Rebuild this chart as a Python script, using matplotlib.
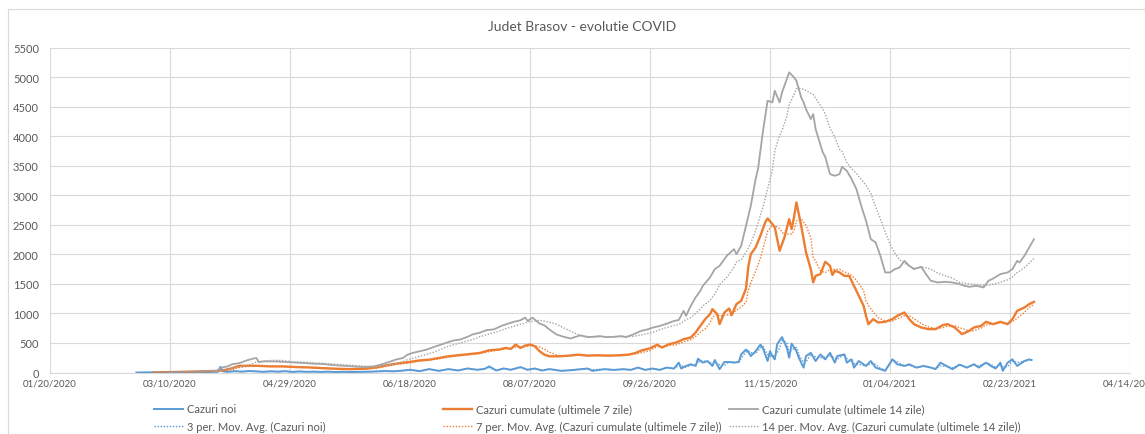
import numpy as np
import pandas as pd
import matplotlib
matplotlib.use("Agg")
import matplotlib.pyplot as plt
import matplotlib.dates as mdates
from matplotlib.patches import Rectangle

plt.rcParams['font.family'] = ['Lato', 'DejaVu Sans']

START = pd.Timestamp('2020-01-20')

# values, days counted from 01/20/2020
noi_days = [36, 40, 44, 48, 52, 56, 60, 64, 68, 70, 71, 72, 74, 77, 80, 83, 86, 89, 92, 95,
            98, 101, 104, 107, 110, 113, 116, 119, 122, 125, 128, 131, 134, 137, 140, 143, 146, 150, 154, 158,
            162, 166, 170, 174, 178, 181, 183, 186, 189, 192, 196, 199, 202, 205, 208, 210, 213, 217, 221, 224,
            226, 231, 235, 239, 242, 245, 248, 251, 254, 257, 260, 262, 263, 265, 267, 269, 270, 272, 274, 276,
            277, 279, 281, 283, 285, 287, 288, 290, 291, 292, 294, 296, 297, 299, 300, 301, 302, 303, 304, 305,
            307, 308, 309, 311, 312, 314, 315, 317, 319, 321, 323, 325, 327, 328, 331, 332, 334, 335, 337, 340,
            342, 344, 346, 348, 351, 353, 356, 358, 361, 364, 367, 369, 371, 374, 376, 379, 382, 385, 387, 390,
            392, 394, 396, 397, 399, 401, 403, 406, 408, 409]
noi_vals = [0, 2, 0, 3, 5, 4, 8, 6, 10, 15, 95, 20, 12, 22, 15, 25, 18, 12, 20, 14,
            22, 10, 18, 12, 15, 10, 14, 8, 12, 8, 10, 12, 15, 20, 25, 20, 28, 46, 23, 57,
            28, 57, 34, 68, 46, 60, 103, 34, 68, 46, 91, 46, 68, 34, 57, 45, 28, 39, 56, 67,
            28, 56, 44, 56, 44, 83, 44, 67, 44, 83, 67, 167, 67, 111, 139, 111, 233, 167, 194, 111,
            211, 56, 178, 178, 167, 178, 306, 389, 345, 278, 361, 472, 417, 194, 361, 278, 222, 480, 540, 600,
            417, 250, 489, 361, 250, 83, 278, 333, 194, 306, 222, 333, 167, 278, 306, 167, 222, 83, 194, 111,
            194, 83, 56, 28, 222, 139, 111, 139, 83, 111, 83, 56, 167, 100, 56, 133, 83, 139, 83, 167,
            111, 67, 167, 28, 167, 222, 111, 194, 222, 211]

zile7_days = [43, 48, 52, 56, 60, 64, 68, 70, 73, 76, 78, 79, 82, 86, 92, 97, 103, 108, 114, 119,
              125, 131, 136, 140, 144, 146, 150, 154, 158, 162, 166, 170, 175, 179, 183, 187, 190, 192, 194, 196,
              198, 200, 202, 204, 206, 208, 212, 216, 220, 224, 228, 233, 237, 241, 244, 246, 250, 253, 255, 258,
              261, 264, 267, 269, 271, 273, 275, 276, 278, 279, 281, 283, 284, 286, 288, 290, 291, 292, 294, 296,
              298, 299, 301, 302, 304, 306, 308, 309, 310, 311, 313, 315, 317, 318, 319, 321, 323, 325, 326, 327,
              329, 331, 333, 335, 337, 339, 340, 341, 343, 345, 348, 351, 353, 356, 358, 360, 363, 366, 369, 372,
              374, 377, 380, 383, 385, 388, 390, 393, 396, 399, 401, 403, 406, 408, 410]
zile7_vals = [0, 5, 8, 12, 15, 20, 25, 28, 45, 74, 103, 114, 114, 114, 103, 103, 91, 85, 74, 63,
              57, 63, 85, 120, 148, 160, 180, 205, 217, 245, 274, 291, 314, 330, 376, 388, 416, 399, 473, 416,
              456, 473, 445, 359, 302, 274, 274, 285, 302, 285, 291, 285, 291, 302, 330, 367, 410, 470, 423, 480,
              508, 564, 592, 677, 790, 903, 987, 1072, 987, 818, 1016, 1083, 970, 1157, 1213, 1420, 1800, 2003, 2116, 2314,
              2539, 2607, 2511, 2455, 2060, 2285, 2596, 2427, 2624, 2878, 2483, 2032, 1749, 1524, 1636, 1665, 1873, 1806, 1650, 1721,
              1693, 1636, 1636, 1467, 1298, 1128, 959, 818, 903, 846, 858, 903, 959, 1016, 903, 818, 762, 734, 734, 801,
              818, 762, 649, 705, 762, 790, 858, 818, 858, 818, 903, 1044, 1100, 1157, 1196]

zile14_days = [50, 56, 62, 68, 70, 72, 74, 76, 79, 82, 85, 86, 87, 89, 93, 97, 101, 106, 110, 114,
               118, 122, 126, 131, 135, 139, 142, 144, 147, 149, 151, 154, 157, 160, 163, 165, 168, 171, 174, 176,
               179, 182, 185, 188, 190, 193, 196, 198, 199, 201, 204, 206, 208, 211, 214, 217, 219, 221, 224, 226,
               229, 232, 235, 238, 240, 243, 246, 249, 251, 254, 257, 260, 262, 264, 265, 267, 269, 271, 272, 275,
               277, 279, 282, 285, 286, 288, 290, 292, 294, 295, 297, 299, 301, 302, 304, 305, 307, 308, 310, 311,
               313, 314, 315, 317, 318, 319, 322, 323, 325, 327, 329, 330, 332, 334, 336, 338, 340, 342, 344, 346,
               348, 350, 352, 354, 356, 358, 360, 363, 365, 367, 370, 373, 376, 379, 381, 383, 386, 389, 391, 393,
               396, 399, 401, 403, 404, 406, 408, 410]
zile14_vals = [0, 10, 18, 25, 33, 90, 103, 141, 160, 205, 239, 245, 177, 188, 188, 182, 171, 160, 148, 143,
               125, 114, 103, 91, 103, 148, 188, 217, 245, 302, 330, 359, 388, 433, 473, 502, 541, 559, 604, 644,
               673, 718, 730, 787, 815, 855, 884, 929, 872, 929, 827, 798, 730, 644, 604, 576, 604, 627, 599, 604,
               616, 599, 604, 616, 599, 644, 701, 730, 758, 787, 827, 872, 889, 1043, 958, 1129, 1271, 1385, 1467, 1608,
               1749, 1806, 1975, 2088, 2003, 2144, 2483, 2822, 3273, 3442, 4063, 4599, 4571, 4768, 4571, 4740, 4966, 5079, 4994, 4938,
               4655, 4571, 4458, 4289, 4373, 4119, 3724, 3650, 3357, 3329, 3357, 3481, 3414, 3273, 3104, 2822, 2568, 2257, 2201, 1975,
               1693, 1693, 1749, 1777, 1890, 1806, 1749, 1789, 1665, 1552, 1524, 1535, 1524, 1495, 1467, 1450, 1467, 1439, 1552, 1591,
               1665, 1693, 1749, 1890, 1862, 1975, 2116, 2257]

series_names = ['Cazuri noi',
                'Cazuri cumulate (ultimele 7 zile)',
                'Cazuri cumulate (ultimele 14 zile)']
ma_periods = [3, 7, 14]
y_ticks = list(range(0, 5501, 500))
x_tick_step = 50
x_tick_count = 10

COLORS = ['#5B9BD5', '#ED7D31', '#A5A5A5']
TXT = '#595959'
GRID = '#D9D9D9'


def to_series(days, vals):
    idx = START + pd.to_timedelta(days, unit='D')
    return pd.Series(vals, index=idx, dtype=float)


def moving_avg(s, n):
    # trailing n-day average, like the Excel trendline
    ma = s.rolling('%dD' % n).mean()
    ma[ma.index < s.index[0] + pd.Timedelta(days=n - 1)] = np.nan
    return ma


data = [to_series(noi_days, noi_vals),
        to_series(zile7_days, zile7_vals),
        to_series(zile14_days, zile14_vals)]

fig = plt.figure(figsize=(11.45, 4.35), dpi=100)
ax = fig.add_axes([50 / 1145, 1 - 373.5 / 435, 1080 / 1145, 325 / 435])

# outer chart border (runs past the picture edges)
fig.patches.append(Rectangle((8 / 1145, -0.1), 1.2, 1.1 - 10 / 435, transform=fig.transFigure,
                             fill=False, edgecolor=GRID, linewidth=0.8))

lws = [1.4, 1.7, 1.3]
main_handles = []
ma_handles = []
for i, s in enumerate(data):
    h, = ax.plot(s.index, s.values, color=COLORS[i], lw=lws[i], zorder=3 + i * 0.1)
    main_handles.append(h)
    ma = moving_avg(s, ma_periods[i])
    h2, = ax.plot(ma.index, ma.values, color=COLORS[i], lw=1.0, linestyle=(0, (1, 1.2)), zorder=4)
    ma_handles.append(h2)

ticks = [START + pd.Timedelta(days=x_tick_step * k) for k in range(x_tick_count)]
ax.set_xlim(ticks[0], ticks[-1])
ax.set_xticks(ticks)
ax.xaxis.set_major_formatter(mdates.DateFormatter('%m/%d/%Y'))
ax.set_ylim(0, 5500)
ax.set_yticks(y_ticks)

ax.grid(True, color=GRID, lw=0.8)
ax.set_axisbelow(True)
for sp in ['top', 'right', 'left']:
    ax.spines[sp].set_visible(False)
ax.spines['bottom'].set_color(GRID)
ax.tick_params(length=0, colors=TXT)
ax.tick_params(axis='y', labelsize=8, pad=8)
ax.tick_params(axis='x', labelsize=7, pad=4)

fig.text(582 / 1145, 1 - 27 / 435, 'Judet Brasov - evolutie COVID', ha='center', va='center',
         fontsize=10, color=TXT)

leg_x = [150 / 1145, 439 / 1145, 725 / 1145]
for i in range(3):
    labels = [series_names[i],
              '%d per. Mov. Avg. (%s)' % (ma_periods[i], series_names[i])]
    leg = fig.legend([main_handles[i], ma_handles[i]], labels, loc='upper left',
                     bbox_to_anchor=(leg_x[i], 1 - 400 / 435), frameon=False, fontsize=8,
                     handlelength=2.6, handletextpad=0.3, labelspacing=0.6, borderaxespad=0)
    for t in leg.get_texts():
        t.set_color(TXT)

fig.savefig('out.png', dpi=100)
